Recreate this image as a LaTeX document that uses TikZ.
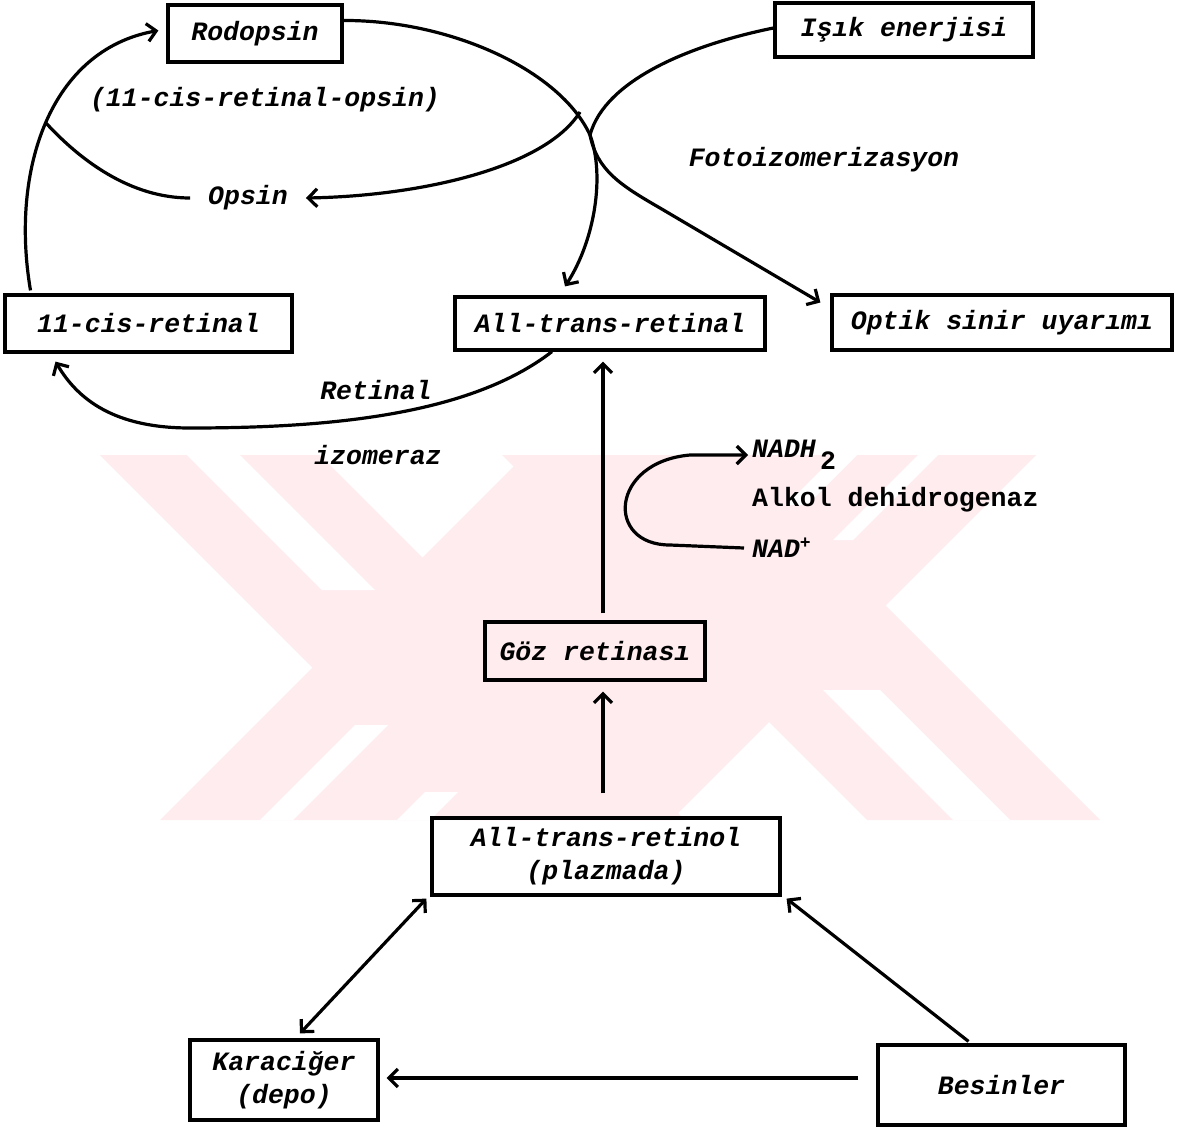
\documentclass[tikz,border=0pt]{standalone}
\usepackage{fontspec}
\setmainfont{Liberation Mono}
\usetikzlibrary{arrows.meta,calc}
\definecolor{wm}{RGB}{254,236,239}
\begin{document}
\begin{tikzpicture}[x=1pt,y=-1pt,
  txt/.style={font=\bfseries\itshape\fontsize{26.5}{33}\selectfont},
  box/.style={draw,line width=3.2pt,inner sep=0pt,txt,align=center},
  lbl/.style={inner sep=0pt,txt},
  plain/.style={line width=3.2pt},
  conn/.style={line width=3.2pt,-{Straight Barb[length=9pt,width=18pt]}},
  dconn/.style={line width=3.2pt,{Straight Barb[length=9pt,width=18pt]}-{Straight Barb[length=9pt,width=18pt]}}]
\useasboundingbox (0,0) rectangle (1177,1132);
\fill[white] (0,0) rectangle (1177,1132);
% watermark
\begin{scope}
\clip (0,455) rectangle (1177,820);
\fill[wm] (100,455)--(320,455)--(685,820)--(465,820)--cycle;
\fill[wm] (160,820)--(671,820)--(1036,455)--(525,455)--cycle;
\fill[wm] (502,455)--(735,455)--(1100,820)--(867,820)--cycle;
\fill[white] (187,455)--(240,455)--(375,590)--(322,590)--cycle;
\fill[white] (260,820)--(293,820)--(388,725)--(355,725)--cycle;
\fill[white] (397,820)--(430,820)--(458,792)--(425,792)--cycle;
\fill[white] (953,820)--(1010,820)--(880,690)--(823,690)--cycle;
\fill[white] (836,455)--(857,455)--(807,505)--(786,505)--cycle;
\fill[white] (918,455)--(938,455)--(853,540)--(833,540)--cycle;
\end{scope}
% boxes
\node[box,minimum width=174pt,minimum height=57pt] (rod) at (255,33.5) {Rodopsin};
\node[box,minimum width=258pt,minimum height=54pt] (isik) at (904,30) {Işık enerjisi};
\node[box,minimum width=287pt,minimum height=57pt] (cis) at (148.5,323.5) {11-cis-retinal};
\node[box,minimum width=310pt,minimum height=53pt] (atr) at (610,323.5) {All-trans-retinal};
\node[box,minimum width=340pt,minimum height=55pt] (opt) at (1002,322.5) {Optik sinir uyarımı};
\node[box,minimum width=220pt,minimum height=58pt] (goz) at (595,651) {Göz retinası};
\node[box,minimum width=348pt,minimum height=77pt] (atrol) at (606,856.5) {All-trans-retinol\\(plazmada)};
\node[box,minimum width=188pt,minimum height=80pt] (kara) at (284,1080) {Karaciğer\\(depo)};
\node[box,minimum width=247pt,minimum height=80pt] (bes) at (1001.5,1085) {Besinler};
% labels
\node[lbl] (opsinpar) at (265,100) {(11-cis-retinal-opsin)};
\node[lbl] (foto) at (824,160) {Fotoizomerizasyon};
\node[lbl] (opsin) at (248,198) {Opsin};
\node[lbl] (retinal) at (376,390) {Retinal};
\node[lbl] (izo) at (378,455) {izomeraz};
\node[lbl,anchor=west] (nadh) at (752,455) {NADH\,\raisebox{-12pt}{\upshape 2}};
\node[lbl,anchor=west,font=\bfseries\fontsize{26.5}{33}\selectfont] (alk) at (752,500) {Alkol dehidrogenaz};
\node[lbl,anchor=west] (nad) at (752,548) {NAD\raisebox{9pt}{\fontsize{18}{20}\selectfont +}};
% junction coordinates
\coordinate (j) at (590,135);
\coordinate (j2) at (580,112);
\coordinate (lc) at (46,123);
% connectors
\draw[conn] ([yshift=13pt]rod.east) .. controls (450,20) and (560,70) .. (j) .. controls (605,175) and (595,240) .. ([xshift=-45pt,yshift=9pt]atr.north);
\draw[plain] ([yshift=2pt]isik.west) .. controls (690,45) and (605,80) .. (j);
\draw[conn] (j) .. controls (597,170) and (620,185) .. (660,208) -- ([xshift=-10pt,yshift=20pt]opt.west);
\draw[conn] (j2) .. controls (545,168) and (420,196) .. ([xshift=18pt]opsin.east);
\draw[conn] ([xshift=-118pt,yshift=3pt]cis.north) .. controls (10,170) and (50,50) .. ([xshift=-8pt,yshift=3pt]rod.west);
\draw[plain] ([xshift=-18pt]opsin.west) .. controls (130,198) and (80,160) .. (lc);
\draw[conn] ([xshift=-58pt]atr.south) .. controls (470,415) and (330,428) .. (190,428) .. controls (115,428) and (78,400) .. ([xshift=-93pt,yshift=-8pt]cis.south);
\draw[conn] ([xshift=8pt,yshift=7pt]goz.north) -- ([xshift=-7pt,yshift=-10pt]atr.south);
\draw[conn] ([xshift=-3pt,yshift=23pt]atrol.north) -- ([xshift=8pt,yshift=-10pt]goz.south);
\draw[conn] ([xshift=-8pt]nad.west) -- (670,545) .. controls (605,545) and (610,462) .. (690,455) -- ([xshift=-4pt]nadh.west);
\draw[dconn] ([xshift=16pt,yshift=5pt]kara.north) -- ([xshift=-4pt,yshift=-2pt]atrol.south west);
\draw[conn] ([xshift=-33pt,yshift=2pt]bes.north) -- ([xshift=5pt,yshift=-2pt]atrol.south east);
\draw[conn] ([xshift=-18pt,yshift=7pt]bes.west) -- ([xshift=7pt,yshift=2pt]kara.east);
\end{tikzpicture}
\end{document}
